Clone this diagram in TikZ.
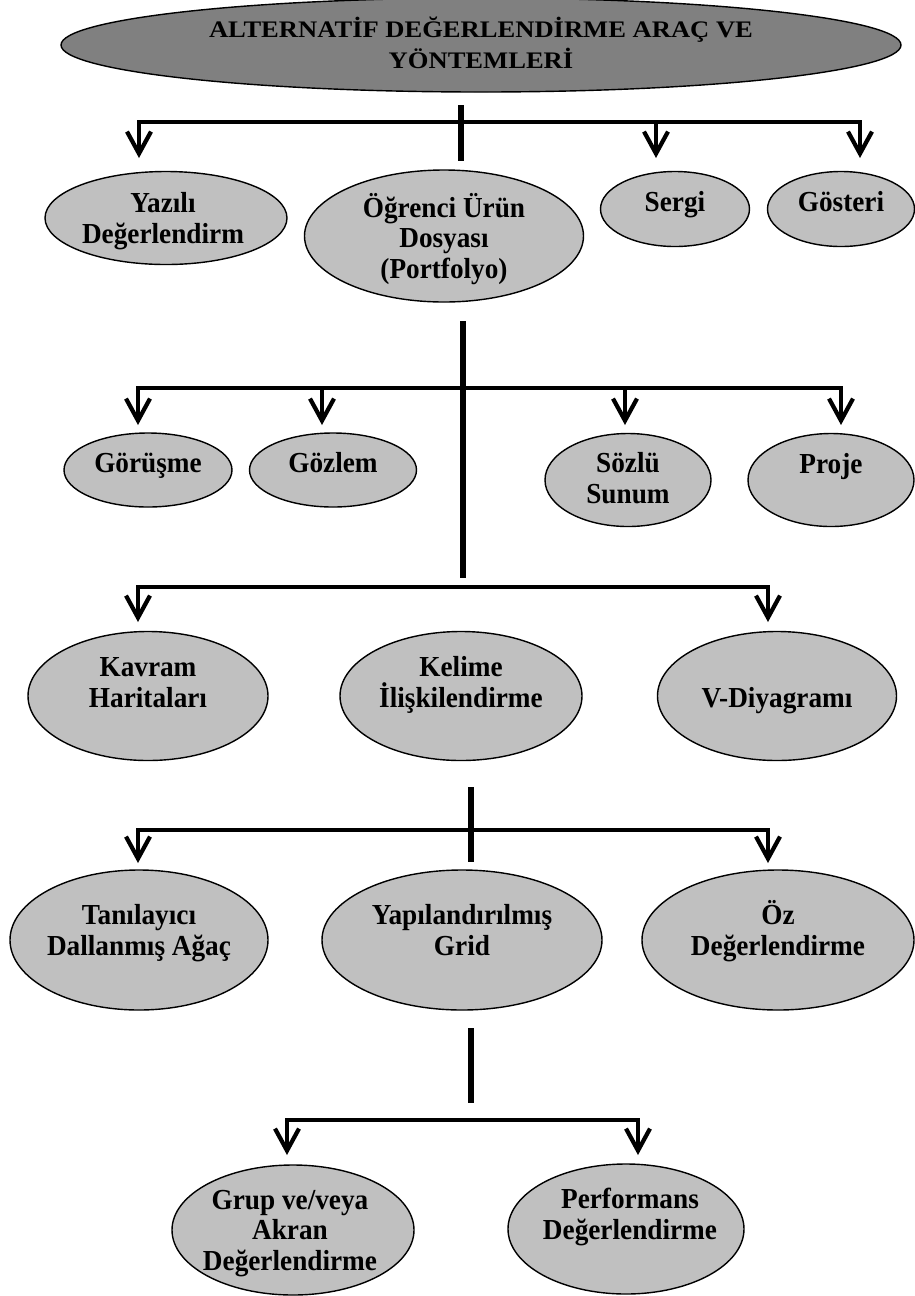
\documentclass[tikz,border=0pt]{standalone}
\usepackage{fontspec}
\setmainfont{Liberation Serif}
\newfontfamily\bodyfont[FakeStretch=0.94]{Liberation Serif}
\newfontfamily\titlefont[FakeStretch=1.12]{Liberation Serif}
\usetikzlibrary{shapes.geometric,arrows.meta}
\definecolor{lgray}{HTML}{C0C0C0}
\definecolor{dgray}{HTML}{808080}
\tikzset{
  ell/.style={ellipse,draw=black,line width=0.8pt,fill=lgray,inner sep=0pt},
  E/.style 2 args={minimum width=#1*0.02cm,minimum height=#2*0.02cm},
  lbl/.style={align=center,anchor=base,font=\bodyfont\bfseries\fontsize{16.5}{17.3}\selectfont,inner sep=0pt},
  bar/.style={line width=2.8pt,line cap=rect},
  stem/.style={line width=3pt},
  arr/.style={line width=2pt,-{Straight Barb[length=0.44cm,width=0.48cm,line width=2.4pt]}}
}
\begin{document}
\begin{tikzpicture}[x=0.02cm,y=-0.02cm]
\useasboundingbox (0,0) rectangle (914,1296);

% title
\node[ell,fill=dgray,E={840}{94}] (title) at (481,45) {};
\node[lbl,font=\titlefont\bfseries\fontsize{13.5}{17.6}\selectfont] (titleT) at (481,68) {ALTERNATİF DEĞERLENDİRME ARAÇ VE\\YÖNTEMLERİ};

% level 1
\node[ell,E={242}{93}] (yaz) at (166,218) {};
\node[lbl] (yazT) at (163,243) {Yazılı\\Değerlendirm};
\node[ell,E={279}{132}] (ogr) at (444,236) {};
\node[lbl] (ogrT) at (444,278) {Öğrenci Ürün\\Dosyası\\(Portfolyo)};
\node[ell,E={149}{75}] (sergi) at (675,209) {};
\node[lbl] (sergiT) at (675,211) {Sergi};
\node[ell,E={147}{75}] (gost) at (841,209) {};
\node[lbl] (gostT) at (841,211) {Gösteri};

\coordinate (v1a) at (461,105); \coordinate (v1b) at (461,161);
\coordinate (b1l) at (139,122); \coordinate (b1m) at (656,122); \coordinate (b1r) at (860,122);
\coordinate (t1a) at (139,158); \coordinate (t1b) at (656,158); \coordinate (t1c) at (860,158);
\draw[stem] (v1a) -- (v1b);
\draw[bar] (b1l) -- (b1r);
\draw[arr] (b1l) -- (t1a);
\draw[arr] (b1m) -- (t1b);
\draw[arr] (b1r) -- (t1c);

% level 2
\node[ell,E={168}{74}] (gor) at (148,470) {};
\node[lbl] (gorT) at (148,472) {Görüşme};
\node[ell,E={167}{74}] (goz) at (333,470) {};
\node[lbl] (gozT) at (333,472) {Gözlem};
\node[ell,E={166}{93}] (soz) at (628,480) {};
\node[lbl] (sozT) at (628,503) {Sözlü\\Sunum};
\node[ell,E={166}{93}] (proje) at (831,480) {};
\node[lbl] (projeT) at (831,473) {Proje};

\coordinate (v2a) at (463,321); \coordinate (v2b) at (463,578);
\coordinate (b2l) at (138,388); \coordinate (b2m1) at (322,388); \coordinate (b2m2) at (625,388); \coordinate (b2r) at (841,388);
\coordinate (t2a) at (138,425); \coordinate (t2b) at (322,425); \coordinate (t2c) at (625,425); \coordinate (t2d) at (841,425);
\draw[stem] (v2a) -- (v2b);
\draw[bar] (b2l) -- (b2r);
\draw[arr] (b2l) -- (t2a);
\draw[arr] (b2m1) -- (t2b);
\draw[arr] (b2m2) -- (t2c);
\draw[arr] (b2r) -- (t2d);

% level 3
\node[ell,E={240}{129}] (kav) at (148,696) {};
\node[lbl] (kavT) at (148,707) {Kavram\\Haritaları};
\node[ell,E={242}{129}] (kel) at (461,696) {};
\node[lbl] (kelT) at (461,707) {Kelime\\İlişkilendirme};
\node[ell,E={239}{129}] (vd) at (777,696) {};
\node[lbl] (vdT) at (777,707) {V-Diyagramı};

\coordinate (b3l) at (138,587); \coordinate (b3r) at (768,587);
\coordinate (t3a) at (138,622); \coordinate (t3b) at (768,622);
\draw[bar] (b3l) -- (b3r);
\draw[arr] (b3l) -- (t3a);
\draw[arr] (b3r) -- (t3b);

% level 4
\node[ell,E={258}{140}] (tan) at (139,940) {};
\node[lbl] (tanT) at (139,955) {Tanılayıcı\\Dallanmış Ağaç};
\node[ell,E={280}{140}] (yap) at (462,940) {};
\node[lbl] (yapT) at (462,955) {Yapılandırılmış\\Grid};
\node[ell,E={272}{140}] (oz) at (778,940) {};
\node[lbl] (ozT) at (778,955) {Öz\\Değerlendirme};

\coordinate (v4a) at (471,787); \coordinate (v4b) at (471,862);
\coordinate (b4l) at (138,830); \coordinate (b4r) at (768,830);
\coordinate (t4a) at (138,863); \coordinate (t4b) at (768,863);
\draw[stem] (v4a) -- (v4b);
\draw[bar] (b4l) -- (b4r);
\draw[arr] (b4l) -- (t4a);
\draw[arr] (b4r) -- (t4b);

% level 5
\node[ell,E={242}{130}] (grup) at (293,1230) {};
\node[lbl] (grupT) at (290,1270) {Grup ve/veya\\Akran\\Değerlendirme};
\node[ell,E={236}{130}] (perf) at (626,1229) {};
\node[lbl] (perfT) at (630,1239) {Performans\\Değerlendirme};

\coordinate (v5a) at (471,1028); \coordinate (v5b) at (471,1103);
\coordinate (b5l) at (287,1120); \coordinate (b5r) at (638,1120);
\coordinate (t5a) at (287,1155); \coordinate (t5b) at (638,1155);
\draw[stem] (v5a) -- (v5b);
\draw[bar] (b5l) -- (b5r);
\draw[arr] (b5l) -- (t5a);
\draw[arr] (b5r) -- (t5b);
\end{tikzpicture}
\end{document}
